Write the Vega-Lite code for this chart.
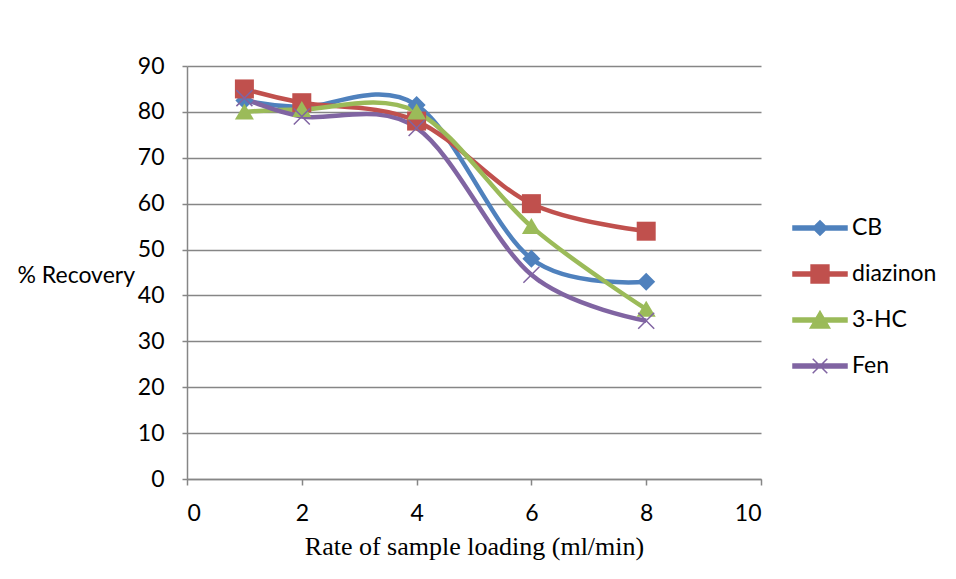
{
  "$schema": "https://vega.github.io/schema/vega-lite/v6.json",
  "autosize": "none",
  "width": 574,
  "height": 413,
  "padding": {"left": 187, "top": 66, "right": 195, "bottom": 100},
  "background": "white",
  "config": {
    "view": {"stroke": null},
    "font": "Lato",
    "axis": {"labelFont": "Lato", "labelFontSize": 23, "labelColor": "#000", "domainColor": "#868686", "domainWidth": 1.5, "tickColor": "#868686", "tickWidth": 1.5, "tickSize": 6, "gridColor": "#868686", "gridWidth": 1.5}
  },
  "data": {
    "values": [
      {"rate": 1, "recovery": 82.5, "series": "CB"},
      {"rate": 2, "recovery": 81, "series": "CB"},
      {"rate": 4, "recovery": 81.5, "series": "CB"},
      {"rate": 6, "recovery": 48, "series": "CB"},
      {"rate": 8, "recovery": 43, "series": "CB"},
      {"rate": 1, "recovery": 85, "series": "diazinon"},
      {"rate": 2, "recovery": 82, "series": "diazinon"},
      {"rate": 4, "recovery": 78, "series": "diazinon"},
      {"rate": 6, "recovery": 60, "series": "diazinon"},
      {"rate": 8, "recovery": 54, "series": "diazinon"},
      {"rate": 1, "recovery": 80, "series": "3-HC"},
      {"rate": 2, "recovery": 80.5, "series": "3-HC"},
      {"rate": 4, "recovery": 80, "series": "3-HC"},
      {"rate": 6, "recovery": 55, "series": "3-HC"},
      {"rate": 8, "recovery": 37, "series": "3-HC"},
      {"rate": 1, "recovery": 83, "series": "Fen"},
      {"rate": 2, "recovery": 79, "series": "Fen"},
      {"rate": 4, "recovery": 76.5, "series": "Fen"},
      {"rate": 6, "recovery": 44.5, "series": "Fen"},
      {"rate": 8, "recovery": 34.5, "series": "Fen"}
    ]
  },
  "encoding": {
    "x": {
      "field": "rate", "type": "quantitative",
      "scale": {"domain": [0, 10], "nice": false},
      "axis": {"values": [0, 2, 4, 6, 8, 10], "grid": false, "labelPadding": 17, "title": "Rate of sample loading (ml/min)", "titleFont": "Liberation Serif", "titleFontSize": 26, "titleFontWeight": "normal", "titleColor": "#000", "titlePadding": 8}
    },
    "y": {
      "field": "recovery", "type": "quantitative",
      "scale": {"domain": [0, 90], "nice": false},
      "axis": {"values": [0, 10, 20, 30, 40, 50, 60, 70, 80, 90], "grid": true, "tickSize": 5, "labelPadding": 18, "title": "% Recovery", "titleAngle": 0, "titleAlign": "left", "titleBaseline": "middle", "titleX": -170, "titleY": 209, "titleFont": "Lato", "titleFontSize": 23, "titleFontWeight": "normal", "titleColor": "#000"}
    }
  },
  "layer": [
    {
      "mark": {"type": "line", "interpolate": "cardinal", "strokeWidth": 4.5},
      "encoding": {
        "color": {
          "field": "series", "type": "nominal",
          "scale": {"domain": ["CB", "diazinon", "3-HC", "Fen"], "range": ["#4F81BD", "#C0504D", "#9BBB59", "#8064A2"]},
          "legend": {
            "orient": "none", "legendX": 605, "legendY": 134, "title": null,
            "symbolSize": 2916, "labelFont": "Lato", "labelFontSize": 23, "labelColor": "#000", "labelOffset": 4, "rowPadding": 6,
            "encode": {"symbols": {"update": {
              "shape": {"signal": "datum.value === 'CB' ? 'M-1,-0.07H1V0.07H-1ZM0,-0.27L0.27,0L0,0.27L-0.27,0Z' : datum.value === 'diazinon' ? 'M-1,-0.07H1V0.07H-1ZM-0.33,-0.33H0.33V0.33H-0.33Z' : datum.value === '3-HC' ? 'M-1,-0.07H1V0.07H-1ZM0,-0.32L0.36,0.3H-0.36Z' : 'M-1,-0.07H1V0.07H-1ZM-0.27,-0.27L0.27,0.27M-0.27,0.27L0.27,-0.27'"},
              "fill": {"signal": "scale('color', datum.value)"},
              "stroke": {"signal": "scale('color', datum.value)"},
              "strokeWidth": {"value": 1.5},
              "opacity": {"value": 1}
            }}}
          }
        }
      }
    },
    {
      "transform": [{"filter": "datum.series === 'CB'"}],
      "mark": {"type": "point", "filled": true, "opacity": 1, "size": 400, "color": "#4F81BD", "shape": "M0,-0.9L0.9,0L0,0.9L-0.9,0Z"}
    },
    {
      "transform": [{"filter": "datum.series === 'diazinon'"}],
      "mark": {"type": "point", "filled": true, "opacity": 1, "size": 400, "color": "#C0504D", "shape": "M-0.95,-0.95H0.95V0.95H-0.95Z"}
    },
    {
      "transform": [{"filter": "datum.series === '3-HC'"}],
      "mark": {"type": "point", "filled": true, "opacity": 1, "size": 400, "color": "#9BBB59", "shape": "M0,-0.85L0.95,0.75H-0.95Z"}
    },
    {
      "transform": [{"filter": "datum.series === 'Fen'"}],
      "mark": {"type": "point", "filled": false, "opacity": 1, "size": 400, "color": "#8064A2", "strokeWidth": 1.5, "shape": "M-0.8,-0.8L0.8,0.8M-0.8,0.8L0.8,-0.8"}
    }
  ]
}
